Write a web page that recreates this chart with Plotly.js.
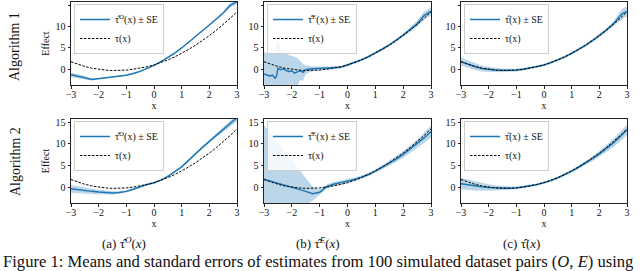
<!DOCTYPE html>
<html>
<head>
<meta charset="utf-8">
<script src="https://cdn.plot.ly/plotly-3.0.1.min.js"></script>
<style>html,body{margin:0;padding:0;background:#fff;}#chart{width:640px;height:271px;}</style>
</head>
<body>
<div id="chart"></div>
<script>
// ---- data ----
const X = [-3,-2.75,-2.5,-2.25,-2,-1.75,-1.5,-1.25,-1,-0.75,-0.5,-0.25,0,0.25,0.5,0.75,1,1.25,1.5,1.75,2,2.25,2.5,2.75,3];
const tau = [1.75,1.15,0.65,0.25,0.0,-0.2,-0.3,-0.3,-0.2,0.0,0.25,0.6,1.0,1.55,2.2,2.9,3.75,4.65,5.65,6.7,7.9,9.15,10.5,11.95,13.5];

// Algorithm 1, tau-hat^O
const meanA1 = [-1.3,-1.6,-2.0,-2.4,-2.2,-2.0,-1.8,-1.6,-1.4,-1.0,-0.5,0.2,0.9,1.8,2.7,3.8,5.0,6.3,7.6,9.0,10.4,11.8,13.2,15.0,15.9];
const seA1   = [0.55,0.5,0.4,0.25,0.15,0.15,0.15,0.15,0.15,0.15,0.15,0.15,0.15,0.15,0.15,0.15,0.15,0.15,0.15,0.15,0.15,0.2,0.3,0.5,0.6];

// Algorithm 1, tau-hat^E (noisy on the left)
const XB1 = [-3,-2.9,-2.8,-2.7,-2.6,-2.55,-2.5,-2.4,-2.3,-2.2,-2.1,-2,-1.9,-1.8,-1.7,-1.6,-1.5,-1.25,-1,-0.75,-0.5,-0.25,0,0.25,0.5,0.75,1,1.25,1.5,1.75,2,2.25,2.5,2.75,3];
const meanB1 = [-1.1,-1.3,-1.6,-1.4,-2.1,-1.6,0.2,-0.1,0.1,-0.3,-0.5,-0.4,-0.9,-0.6,-0.3,-0.7,-0.05,0.1,0.2,0.2,0.3,0.45,1.0,1.55,2.2,2.95,3.8,4.7,5.7,6.8,8.0,9.3,10.7,12.6,13.6];
const seB1   = [5.2,5.0,5.3,5.0,6.0,6.5,6.8,4.5,3.8,4.0,3.8,3.6,3.8,3.2,2.2,2.0,1.0,0.55,0.45,0.4,0.35,0.3,0.3,0.3,0.3,0.3,0.3,0.3,0.3,0.35,0.4,0.5,0.7,0.9,1.0];

// Algorithm 1, tau-hat
const XC1 = [-3,-2.75,-2.5,-2.25,-2,-1.75,-1.5,-1.25,-1,-0.75,-0.5,-0.25,0,0.25,0.5,0.75,1,1.25,1.5,1.75,2,2.25,2.5,2.6,2.7,2.8,2.9,3];
const meanC1 = [1.8,1.2,0.65,0.2,-0.05,-0.2,-0.25,-0.25,-0.2,0.0,0.3,0.6,1.0,1.55,2.2,2.9,3.75,4.65,5.6,6.7,7.9,9.2,10.6,11.3,12.2,12.9,13.3,13.5];
const seC1   = [0.9,0.85,0.8,0.7,0.6,0.5,0.4,0.35,0.3,0.3,0.25,0.25,0.25,0.25,0.25,0.3,0.3,0.3,0.35,0.35,0.4,0.45,0.5,0.7,1.0,1.2,1.2,1.1];

// Algorithm 2, tau-hat^O
const meanA2 = [-0.4,-0.65,-0.85,-1.0,-1.15,-1.3,-1.35,-1.25,-1.0,-0.5,0.1,0.6,1.0,1.6,2.5,3.5,4.7,6.2,7.8,9.2,10.6,12.0,13.3,14.7,16.1];
const seA2   = [0.9,0.8,0.7,0.6,0.5,0.4,0.35,0.3,0.25,0.25,0.2,0.2,0.2,0.2,0.2,0.2,0.2,0.25,0.25,0.3,0.3,0.4,0.5,0.65,0.8];

// Algorithm 2, tau-hat^E
const meanB2 = [1.8,1.35,0.95,0.45,0.0,-0.5,-1.0,-1.55,-1.2,0.1,0.65,1.0,1.3,1.75,2.3,2.9,3.7,4.6,5.5,6.5,7.6,8.8,10.0,11.4,12.9];
const seB2   = [12.5,10.95,9.3,7.75,6.2,4.7,3.15,1.65,0.7,0.5,0.5,0.5,0.5,0.45,0.4,0.4,0.4,0.5,0.6,0.7,0.8,0.9,1.0,1.2,1.4];

// Algorithm 2, tau-hat
const meanC2 = [0.8,0.5,0.25,0.05,-0.1,-0.2,-0.25,-0.25,-0.2,0.0,0.3,0.6,1.0,1.5,2.15,2.85,3.7,4.6,5.55,6.6,7.7,8.9,10.2,11.7,13.3];
const seC2   = [1.3,1.2,1.05,0.9,0.75,0.6,0.5,0.4,0.35,0.3,0.3,0.25,0.25,0.25,0.25,0.28,0.3,0.38,0.45,0.55,0.65,0.8,0.95,1.1,1.2];

const xTicks = [-3,-2,-1,0,1,2,3];
const yTicks = [0,5,10,15];
const labelsEst = ['τ̂<sup>O</sup>(x) ± SE','τ̂<sup>E</sup>(x) ± SE','τ̂(x) ± SE'];
const labelTau = 'τ(x)';
const captions = ['(a) τ̂<sup><i>O</i></sup>(<i>x</i>)','(b) τ̂<sup><i>E</i></sup>(<i>x</i>)','(c) τ̂(<i>x</i>)'];
const rowLabels = ['Algorithm 1','Algorithm 2'];
const figCaption = 'Figure 1: Means and standard errors of estimates from 100 simulated dataset pairs (<i>O, E</i>) using';

// ---- build ----
const BLUE = '#1f77b4';
const FILL = 'rgba(31,119,180,0.30)';
const SERIF = 'Liberation Serif, Times New Roman, serif';

const panels = [
  {x: X,   m: meanA1, s: seA1, lab: labelsEst[0]},
  {x: XB1, m: meanB1, s: seB1, lab: labelsEst[1]},
  {x: XC1, m: meanC1, s: seC1, lab: labelsEst[2]},
  {x: X,   m: meanA2, s: seA2, lab: labelsEst[0]},
  {x: X,   m: meanB2, s: seB2, lab: labelsEst[1]},
  {x: X,   m: meanC2, s: seC2, lab: labelsEst[2]},
];

const W = 640, H = 271;
const colPx = [[71,237],[264,431],[461,627]];
const rowPx = [[2,85],[119,203]];

const data = [];
const layout = {
  width: W, height: H,
  margin: {l:0, r:0, t:0, b:0},
  paper_bgcolor: '#fff', plot_bgcolor: '#fff',
  showlegend: true,
  font: {family: SERIF, size: 10, color: '#111'},
  annotations: [],
};

panels.forEach((p, i) => {
  const n = i + 1;
  const sfx = n === 1 ? '' : String(n);
  const xa = 'x' + sfx, ya = 'y' + sfx;
  const legName = n === 1 ? 'legend' : 'legend' + n;
  const lo = p.m.map((v, k) => v - p.s[k]);
  const hi = p.m.map((v, k) => v + p.s[k]);
  data.push({x: p.x, y: lo, xaxis: xa, yaxis: ya, mode: 'lines', line: {width: 0, color: FILL}, showlegend: false, hoverinfo: 'skip', legend: legName});
  data.push({x: p.x, y: hi, xaxis: xa, yaxis: ya, mode: 'lines', line: {width: 0, color: FILL}, fill: 'tonexty', fillcolor: FILL, showlegend: false, hoverinfo: 'skip', legend: legName});
  data.push({x: p.x, y: p.m, xaxis: xa, yaxis: ya, mode: 'lines', line: {width: 1.5, color: BLUE}, name: p.lab, legend: legName});
  data.push({x: X, y: tau, xaxis: xa, yaxis: ya, mode: 'lines', line: {width: 1, color: '#000', dash: '2.5px,1.5px'}, name: labelTau, legend: legName});

  const c = i % 3, r = Math.floor(i / 3);
  const axCommon = {
    showgrid: false, zeroline: false, showline: true, mirror: true,
    linecolor: '#222', linewidth: 1, ticks: 'outside', ticklen: 2.5, tickwidth: 1, tickcolor: '#222',
    tickfont: {family: SERIF, size: 10, color: '#111'}, fixedrange: true,
  };
  layout['xaxis' + sfx] = Object.assign({}, axCommon, {
    domain: [colPx[c][0] / W, colPx[c][1] / W], anchor: ya, range: [-3, 3],
    tickvals: xTicks, ticktext: xTicks.map(v => v < 0 ? '\u2212' + Math.abs(v) : String(v)),
    ticklabelstandoff: -3,
    title: {text: 'x', font: {family: SERIF, size: 10, color: '#111'}, standoff: 0},
  });
  layout['yaxis' + sfx] = Object.assign({}, axCommon, {
    domain: [1 - rowPx[r][1] / H, 1 - rowPx[r][0] / H], anchor: xa, range: [-3.7, 15.8],
    tickvals: yTicks,
    title: c === 0 ? {text: 'Effect', font: {family: SERIF, size: 10, color: '#111'}, standoff: 4} : {text: ''},
  });
  layout[legName] = {
    x: (colPx[c][0] + 3) / W, y: 1 - (rowPx[r][0] + 2) / H, xanchor: 'left', yanchor: 'top',
    bgcolor: 'rgba(255,255,255,0.8)', bordercolor: '#cccccc', borderwidth: 1, traceorder: 'normal',
    font: {family: SERIF, size: 10, color: '#111'}, itemwidth: 30, tracegroupgap: 0,
  };
});

const rowCenters = [47, 162];
rowLabels.forEach((t, r) => {
  layout.annotations.push({text: t, textangle: -90, xref: 'paper', yref: 'paper', x: 15 / W, y: 1 - rowCenters[r] / H,
    xanchor: 'center', yanchor: 'middle', showarrow: false, font: {family: SERIF, size: 14, color: '#111'}});
});
const capCenters = [124, 318, 521];
captions.forEach((t, i) => {
  layout.annotations.push({text: t, xref: 'paper', yref: 'paper', x: capCenters[i] / W, y: 1 - 243 / H,
    xanchor: 'center', yanchor: 'middle', showarrow: false, font: {family: SERIF, size: 13, color: '#111'}});
});
layout.annotations.push({text: figCaption, xref: 'paper', yref: 'paper', x: 1 / W, y: 1 - 261 / H,
  xanchor: 'left', yanchor: 'middle', showarrow: false, font: {family: SERIF, size: 16.6, color: '#111'}});

Plotly.newPlot('chart', data, layout, {staticPlot: true, displayModeBar: false});
</script>
</body>
</html>
